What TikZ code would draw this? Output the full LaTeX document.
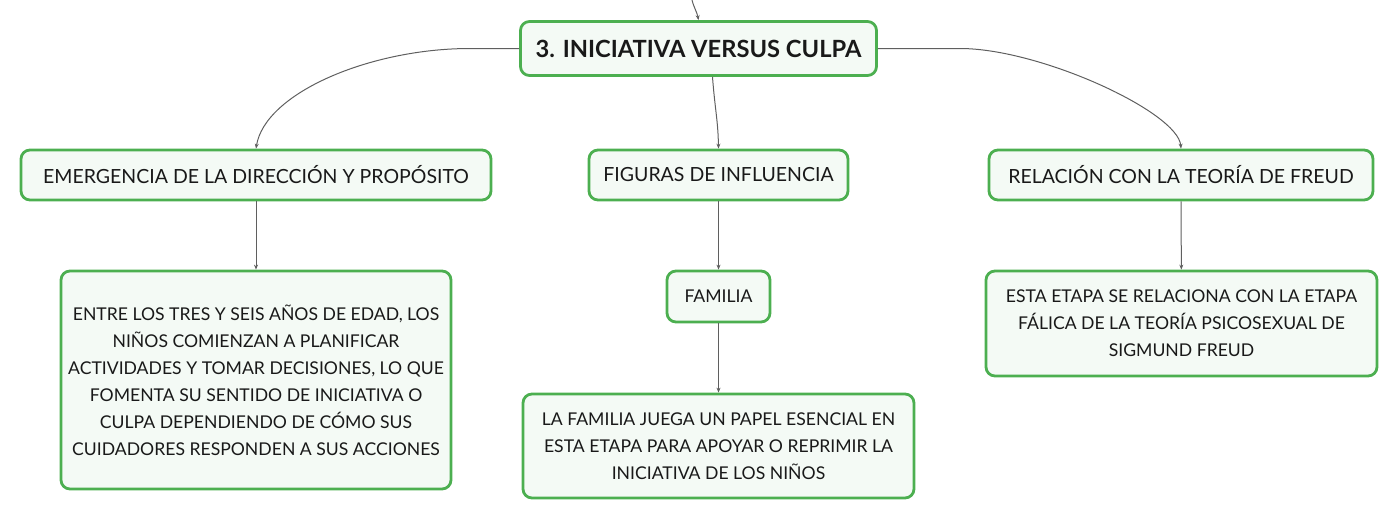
\documentclass[tikz,border=0pt]{standalone}
\usepackage{fontspec}
\setmainfont{Lato}
\usetikzlibrary{arrows.meta}
\begin{document}
\begin{tikzpicture}[x=1pt,y=-1pt]
\definecolor{boxborder}{RGB}{76,175,80}
\definecolor{boxfill}{RGB}{244,250,245}
\definecolor{linkcolor}{RGB}{95,95,95}
\tikzstyle{box}=[draw=boxborder,fill=boxfill,line width=2.8pt,rounded corners=9pt,inner sep=0pt,align=center,text=black!90,font=\fontsize{17.6}{27}\selectfont]
\tikzstyle{branch}=[box,font=\fontsize{19.5}{27}\selectfont]
\tikzstyle{central}=[box,font=\fontsize{23.7}{27}\selectfont\bfseries]
\tikzstyle{edge}=[draw=linkcolor,line width=1pt,-{Stealth[length=5pt,width=4pt]}]
\useasboundingbox (0,0) rectangle (1398,520);
\coordinate (in) at (692,0);
\node[central,minimum width=356,minimum height=54] (0) at (698.5,48.5) {3. INICIATIVA VERSUS CULPA};
\node[branch,minimum width=470,minimum height=50] (1) at (256,175) {EMERGENCIA DE LA DIRECCIÓN Y PROPÓSITO};
\node[branch,minimum width=259,minimum height=50] (2) at (718.5,175) {FIGURAS DE INFLUENCIA};
\node[branch,minimum width=384,minimum height=50] (3) at (1181,175) {RELACIÓN CON LA TEORÍA DE FREUD};
\node[box,minimum width=390,minimum height=218] (4) at (256,380) {ENTRE LOS TRES Y SEIS AÑOS DE EDAD, LOS\\NIÑOS COMIENZAN A PLANIFICAR\\ACTIVIDADES Y TOMAR DECISIONES, LO QUE\\FOMENTA SU SENTIDO DE INICIATIVA O\\CULPA DEPENDIENDO DE CÓMO SUS\\CUIDADORES RESPONDEN A SUS ACCIONES};
\node[box,minimum width=103,minimum height=51] (5) at (718.5,296.5) {FAMILIA};
\node[box,minimum width=391,minimum height=104] (6) at (718.5,446) {LA FAMILIA JUEGA UN PAPEL ESENCIAL EN\\ESTA ETAPA PARA APOYAR O REPRIMIR LA\\INICIATIVA DE LOS NIÑOS};
\node[box,minimum width=391,minimum height=105] (7) at (1181.5,323.5) {ESTA ETAPA SE RELACIONA CON LA ETAPA\\FÁLICA DE LA TEORÍA PSICOSEXUAL DE\\SIGMUND FREUD};
\draw[edge] (in) .. controls (694,8) and (697,12) .. (0.north);
\draw[edge] (0.west) -- (470,48.5) .. controls (370,48.5) and (265,93) .. (1.north);
\draw[edge] (0.east) -- (960,48.5) .. controls (1040,48.5) and (1178,112) .. (3.north);
\draw[edge] ([xshift=14]0.south) .. controls (715,110) and (718,120) .. (2.north);
\draw[edge] (1) -- (4);
\draw[edge] (2) -- (5);
\draw[edge] (5) -- (6);
\draw[edge] (3) -- (7);
\end{tikzpicture}
\end{document}
